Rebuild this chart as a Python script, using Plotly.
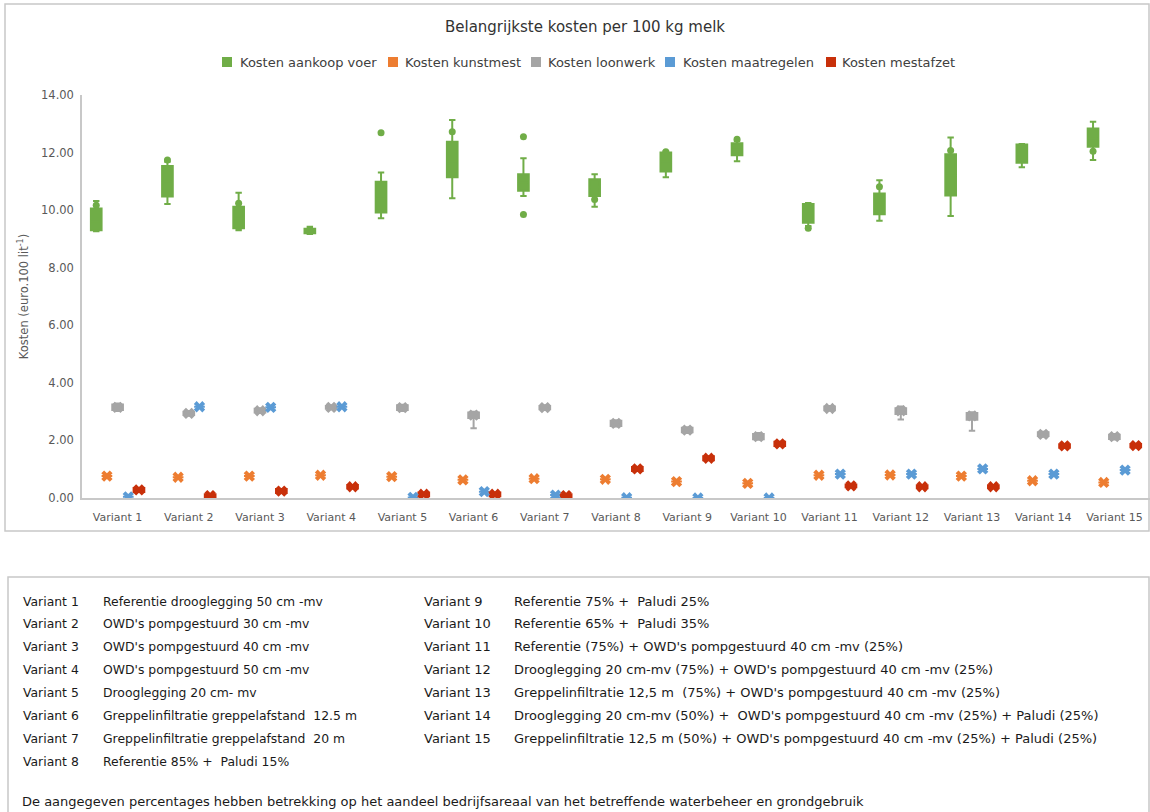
import plotly.graph_objects as go

variants = ["Variant 1", "Variant 2", "Variant 3", "Variant 4", "Variant 5",
            "Variant 6", "Variant 7", "Variant 8", "Variant 9", "Variant 10",
            "Variant 11", "Variant 12", "Variant 13", "Variant 14", "Variant 15"]

series_names = ["Kosten aankoop voer", "Kosten kunstmest", "Kosten loonwerk",
                "Kosten maatregelen", "Kosten mestafzet"]
series_colors = ["#70AD47", "#ED7D31", "#A5A5A5", "#5B9BD5", "#C8300A"]

# Kosten aankoop voer (box statistics)
green_lo = [9.27, 10.21, 9.30, 9.17, 9.72, 10.41, 10.49, 10.12, 11.14, 11.70, 9.45, 9.63, 9.80, 11.49, 11.74]
green_q1 = [9.30, 10.47, 9.37, 9.20, 9.92, 11.14, 10.67, 10.49, 11.34, 11.91, 9.56, 9.86, 10.51, 11.65, 12.20]
green_med = [9.60, 11.00, 9.70, 9.27, 10.40, 11.70, 10.95, 10.80, 11.70, 12.10, 9.90, 10.20, 11.20, 11.95, 12.50]
green_q3 = [10.06, 11.53, 10.12, 9.35, 10.99, 12.38, 11.25, 11.07, 12.00, 12.32, 10.21, 10.58, 11.94, 12.28, 12.84]
green_hi = [10.32, 11.68, 10.60, 9.42, 11.31, 13.13, 11.80, 11.25, 12.05, 12.40, 10.25, 11.04, 12.52, 12.30, 13.07]
green_dot_variant = ["Variant 1", "Variant 2", "Variant 3", "Variant 5", "Variant 6", "Variant 7",
                     "Variant 7", "Variant 8", "Variant 9", "Variant 10", "Variant 11", "Variant 12",
                     "Variant 13", "Variant 15"]
green_dot_value = [10.17, 11.74, 10.24, 12.69, 12.72, 12.55, 9.85, 10.37, 12.03, 12.46, 9.37, 10.81, 12.07, 12.05]

# Kosten kunstmest
orange_val = [0.76, 0.72, 0.76, 0.79, 0.74, 0.63, 0.67, 0.65, 0.57, 0.51, 0.79, 0.80, 0.76, 0.60, 0.54]

# Kosten loonwerk
gray_val = [3.15, 2.94, 3.03, 3.15, 3.14, 2.88, 3.14, 2.59, 2.36, 2.13, 3.11, 3.03, 2.85, 2.21, 2.13]
gray_lo = [3.02, 2.86, 2.95, 3.08, 3.02, 2.42, 3.06, 2.48, 2.26, 2.02, 3.03, 2.73, 2.34, 2.13, 2.03]
gray_q1 = [3.06, 2.88, 2.97, 3.10, 3.06, 2.78, 3.08, 2.50, 2.28, 2.04, 3.05, 2.92, 2.72, 2.15, 2.05]
gray_q3 = [3.25, 3.00, 3.10, 3.20, 3.22, 2.97, 3.20, 2.68, 2.44, 2.22, 3.18, 3.12, 2.95, 2.28, 2.20]
gray_hi = [3.28, 3.02, 3.12, 3.22, 3.24, 3.00, 3.22, 2.70, 2.46, 2.26, 3.20, 3.18, 2.98, 2.30, 2.22]

# Kosten maatregelen
blue_val = [0.04, 3.17, 3.15, 3.17, 0.02, 0.22, 0.10, 0.01, 0.00, 0.00, 0.83, 0.83, 1.01, 0.83, 0.97]

# Kosten mestafzet
red_val = [0.28, 0.08, 0.24, 0.39, 0.13, 0.13, 0.08, 1.01, 1.38, 1.88, 0.42, 0.39, 0.39, 1.81, 1.82]
red_q1 = [0.21, 0.03, 0.17, 0.33, 0.06, 0.06, 0.03, 0.94, 1.31, 1.81, 0.37, 0.34, 0.34, 1.75, 1.76]
red_q3 = [0.35, 0.13, 0.31, 0.45, 0.19, 0.19, 0.13, 1.08, 1.45, 1.95, 0.47, 0.44, 0.44, 1.87, 1.88]

variant_texts = [
    "Referentie drooglegging 50 cm -mv",
    "OWD's pompgestuurd 30 cm -mv",
    "OWD's pompgestuurd 40 cm -mv",
    "OWD's pompgestuurd 50 cm -mv",
    "Drooglegging 20 cm- mv",
    "Greppelinfiltratie greppelafstand  12.5 m",
    "Greppelinfiltratie greppelafstand  20 m",
    "Referentie 85% +  Paludi 15%",
    "Referentie 75% +  Paludi 25%",
    "Referentie 65% +  Paludi 35%",
    "Referentie (75%) + OWD's pompgestuurd 40 cm -mv (25%)",
    "Drooglegging 20 cm-mv (75%) + OWD's pompgestuurd 40 cm -mv (25%)",
    "Greppelinfiltratie 12,5 m  (75%) + OWD's pompgestuurd 40 cm -mv (25%)",
    "Drooglegging 20 cm-mv (50%) +  OWD's pompgestuurd 40 cm -mv (25%) + Paludi (25%)",
    "Greppelinfiltratie 12,5 m (50%) + OWD's pompgestuurd 40 cm -mv (25%) + Paludi (25%)",
]
footnote = "De aangegeven percentages hebben betrekking op het aandeel bedrijfsareaal van het betreffende waterbeheer en grondgebruik"

box_stats = [
    (green_lo, green_q1, green_med, green_q3, green_hi),
    (orange_val, orange_val, orange_val, orange_val, orange_val),
    (gray_lo, gray_q1, gray_val, gray_q3, gray_hi),
    (blue_val, blue_val, blue_val, blue_val, blue_val),
    (red_q1, red_q1, red_val, red_q3, red_q3),
]
mean_vals = [None, orange_val, gray_val, blue_val, red_val]

fig = go.Figure()
for name, color, stats, means in zip(series_names, series_colors, box_stats, mean_vals):
    lo, q1, med, q3, hi = stats
    fig.add_trace(go.Box(
        x=variants, q1=q1, median=med, q3=q3, lowerfence=lo, upperfence=hi,
        name=name, offsetgroup=name, showlegend=False,
        fillcolor=color, line=dict(color=color, width=2), whiskerwidth=0.6,
    ))
    if means is not None:
        fig.add_trace(go.Scatter(
            x=variants, y=means, mode="markers", name=name, offsetgroup=name,
            showlegend=False, marker=dict(symbol="x", size=10, color=color),
        ))
    else:
        fig.add_trace(go.Scatter(
            x=green_dot_variant, y=green_dot_value, mode="markers", name=name,
            offsetgroup=name, showlegend=False,
            marker=dict(symbol="circle", size=7, color=color),
        ))

L, R, T, B = 82, 0, 95, 314
W, H = 1150, 812
PW, PH = W - L - R, H - T - B


def px_x(px):
    return (px - L) / PW


def px_y(py):
    return (H - B - py) / PH


annotations = []
shapes = []

# legend (Excel style: square swatch followed by text)
legend_swatch_x = [222, 388, 531, 665, 826]
legend_text_x = [238, 403, 546, 681, 840]
for name, color, sx, tx in zip(series_names, series_colors, legend_swatch_x, legend_text_x):
    shapes.append(dict(type="rect", xref="paper", yref="paper",
                       x0=px_x(sx), x1=px_x(sx + 10), y0=px_y(57), y1=px_y(67),
                       fillcolor=color, line=dict(width=0)))
    annotations.append(dict(xref="paper", yref="paper", x=px_x(tx), y=px_y(62),
                            xanchor="left", yanchor="middle", showarrow=False,
                            text=name, font=dict(family="DejaVu Sans", size=13, color="#404040")))

row_y = [601, 623.9, 646.7, 669.6, 692.4, 715.3, 738.1, 761]
for i, desc in enumerate(variant_texts):
    if i < 8:
        lx, dx, yy, fs = 21, 101, row_y[i], 12.4
    else:
        lx, dx, yy, fs = 422, 512, row_y[i - 8], 13
    annotations.append(dict(xref="paper", yref="paper", x=px_x(lx), y=px_y(yy),
                            xanchor="left", yanchor="middle", showarrow=False,
                            text=variants[i],
                            font=dict(family="DejaVu Sans", size=fs, color="#1a1a1a")))
    annotations.append(dict(xref="paper", yref="paper", x=px_x(dx), y=px_y(yy),
                            xanchor="left", yanchor="middle", showarrow=False,
                            text=desc,
                            font=dict(family="DejaVu Sans", size=fs, color="#1a1a1a")))
annotations.append(dict(xref="paper", yref="paper", x=px_x(20), y=px_y(801),
                        xanchor="left", yanchor="middle", showarrow=False,
                        text=footnote,
                        font=dict(family="DejaVu Sans", size=13, color="#1a1a1a")))

shapes += [
    dict(type="rect", xref="paper", yref="paper", x0=px_x(5), x1=px_x(1149),
         y0=px_y(4), y1=px_y(531), line=dict(color="#C8C8C8", width=1.5)),
    dict(type="rect", xref="paper", yref="paper", x0=px_x(8), x1=px_x(1149),
         y0=px_y(577), y1=px_y(840), line=dict(color="#C8C8C8", width=1.5)),
]

fig.update_layout(
    width=W, height=H,
    margin=dict(l=L, r=R, t=T, b=B),
    paper_bgcolor="white", plot_bgcolor="white",
    font=dict(family="DejaVu Sans", color="#595959"),
    title=dict(text="Belangrijkste kosten per 100 kg melk", xref="container", yref="container",
               x=585 / W, y=1 - 27 / H, xanchor="center", yanchor="middle",
               font=dict(size=15, color="#333333")),
    showlegend=False,
    boxmode="group", boxgap=0.25, boxgroupgap=0,
    scattermode="group", scattergap=0.25,
    xaxis=dict(type="category", showline=True, linecolor="#C8C8C8", linewidth=1.5,
               showgrid=False, ticks="", ticklabelstandoff=8,
               tickfont=dict(size=11, color="#595959")),
    yaxis=dict(range=[0, 14], dtick=2, tickformat=".2f", showline=True,
               linecolor="#C8C8C8", linewidth=1.5, showgrid=False, zeroline=False,
               ticks="", ticklabelstandoff=4, tickfont=dict(size=11.5, color="#595959"),
               title=dict(text="Kosten (euro.100 lit<sup>-1</sup>)", standoff=10,
                          font=dict(size=11.5, color="#595959"))),
    annotations=annotations,
    shapes=shapes,
)

fig.write_html("out.html")
